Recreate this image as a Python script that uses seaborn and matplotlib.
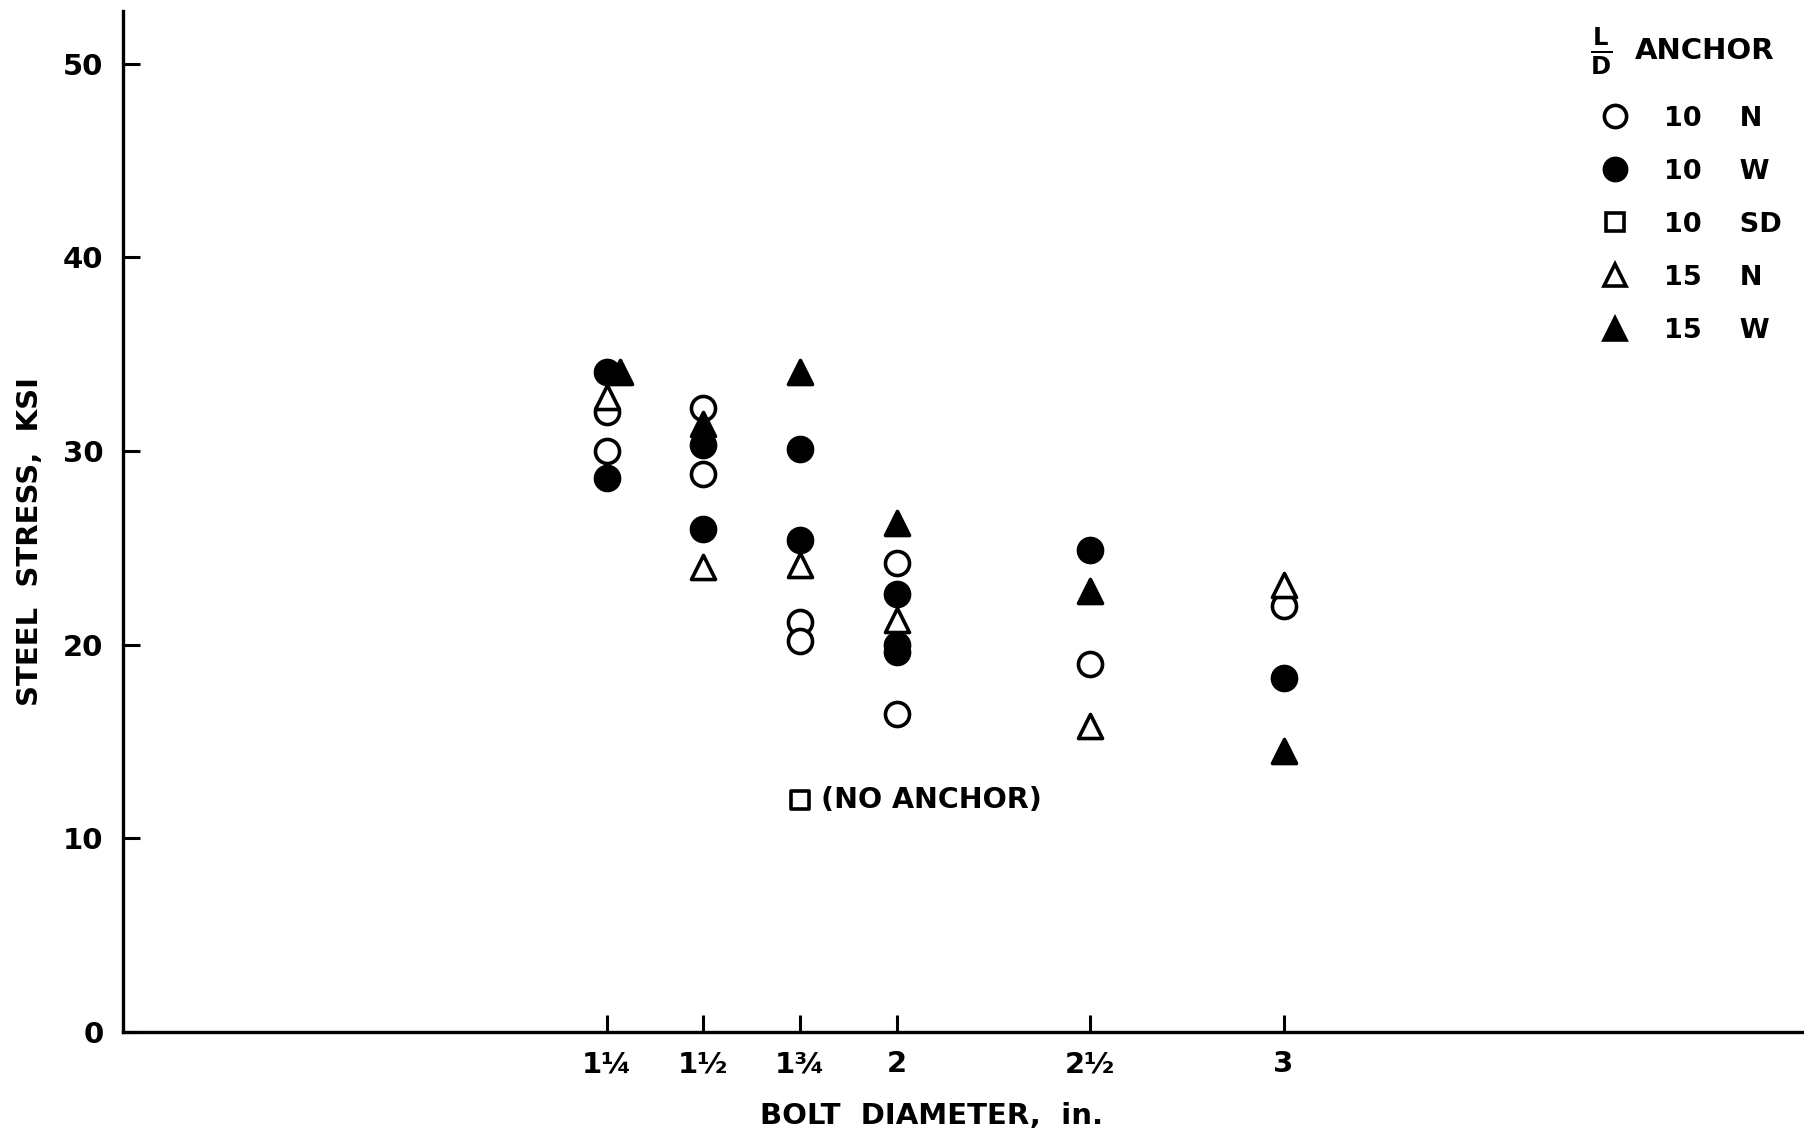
import matplotlib
matplotlib.use("Agg")
import matplotlib.pyplot as plt
from matplotlib.lines import Line2D
import seaborn as sns
import pandas as pd

# ---- data (bolt diameter in inches, steel stress in ksi) ----
n10_x = [1.25, 1.25, 1.5, 1.5, 1.75, 1.75, 2.0, 2.0, 2.5, 3.0]
n10_y = [32.0, 30.0, 32.2, 28.8, 21.2, 20.2, 24.2, 16.4, 19.0, 22.0]

w10_x = [1.25, 1.25, 1.5, 1.5, 1.75, 1.75, 2.0, 2.0, 2.0, 2.5, 3.0]
w10_y = [34.1, 28.6, 30.3, 26.0, 30.1, 25.4, 22.6, 20.0, 19.6, 24.9, 18.3]

sd10_x = [1.75]
sd10_y = [12.0]

n15_x = [1.25, 1.5, 1.75, 2.0, 2.5, 3.0]
n15_y = [32.8, 24.0, 24.1, 21.3, 15.8, 23.1]

w15_x = [1.285, 1.5, 1.75, 2.0, 2.5, 3.0]
w15_y = [34.1, 31.4, 34.1, 26.3, 22.8, 14.5]

x_ticks = [1.25, 1.5, 1.75, 2.0, 2.5, 3.0]
x_ticklabels = ["1\u00bc", "1\u00bd", "1\u00be", "2", "2\u00bd", "3"]
y_ticks = [0, 10, 20, 30, 40, 50]

groups = [
    ("10", "N", n10_x, n10_y, "o", "white"),
    ("10", "SD", sd10_x, sd10_y, "s", "white"),
    ("15", "N", n15_x, n15_y, "^", "white"),
    ("10", "W", w10_x, w10_y, "o", "black"),
    ("15", "W", w15_x, w15_y, "^", "black"),
]

sns.set_style("ticks")
plt.rcParams["font.family"] = ["DejaVu Sans"]
plt.rcParams["font.weight"] = "bold"
for k in ["text.color", "axes.labelcolor", "xtick.color", "ytick.color",
          "axes.edgecolor"]:
    plt.rcParams[k] = "black"

fig = plt.figure(figsize=(18.04, 11.38), dpi=100)
ax = fig.add_axes([0.0682, 0.0931, 0.9318, 0.8968])

for ld, anc, xs, ys, mk, fc in groups:
    df = pd.DataFrame({"x": xs, "y": ys})
    size = 170 if mk == "s" else 300
    sns.scatterplot(data=df, x="x", y="y", marker=mk, s=size,
                    facecolor=fc, edgecolor="black", linewidth=2.6,
                    ax=ax, zorder=3 if fc == "white" else 4, legend=False)

ax.annotate("(NO ANCHOR)", xy=(sd10_x[0], sd10_y[0]), xytext=(15, 0),
            textcoords="offset points", ha="left", va="center",
            fontsize=20.5, fontweight="bold")

ax.set_xlim(0, 4.345)
ax.set_ylim(0, 52.7)
ax.set_xticks(x_ticks)
ax.set_xticklabels(x_ticklabels)
ax.set_yticks(y_ticks)
ax.tick_params(direction="in", length=12, width=2.2, labelsize=21, pad=14)
ax.tick_params(axis="x", pad=13)

for s in ["top", "right"]:
    ax.spines[s].set_visible(False)
for s in ["left", "bottom"]:
    ax.spines[s].set_linewidth(2.4)
    ax.spines[s].set_color("black")

ax.set_xlabel("BOLT  DIAMETER,  in.", fontsize=21, fontweight="bold")
ax.xaxis.set_label_coords(0.481, -0.069)
ax.set_ylabel("STEEL  STRESS,  KSI", fontsize=21, fontweight="bold")
ax.yaxis.set_label_coords(-0.047, 0.481)

# legend
handles = []
labels = []
for ld, anc, xs, ys, mk, fc in [groups[0], groups[3], groups[1], groups[2], groups[4]]:
    handles.append(Line2D([], [], linestyle="none", marker=mk,
                          markersize=13 if mk == "s" else 16,
                          markerfacecolor=fc, markeredgecolor="black",
                          markeredgewidth=2.6))
    labels.append(f"{ld}    {anc}")
leg = ax.legend(handles, labels, loc="upper left", bbox_to_anchor=(0.870, 0.921),
                frameon=False, fontsize=19.5, labelspacing=1.0, handletextpad=1.2,
                borderpad=0, handlelength=1.2)
ax.text(0.8795, 0.961, "$\\mathbf{\\frac{L}{D}}$", transform=ax.transAxes,
        ha="center", va="center", fontsize=25)
ax.text(0.8995, 0.961, "ANCHOR", transform=ax.transAxes, ha="left",
        va="center", fontsize=21, fontweight="bold")

fig.savefig("out.png", dpi=100, facecolor="white")
